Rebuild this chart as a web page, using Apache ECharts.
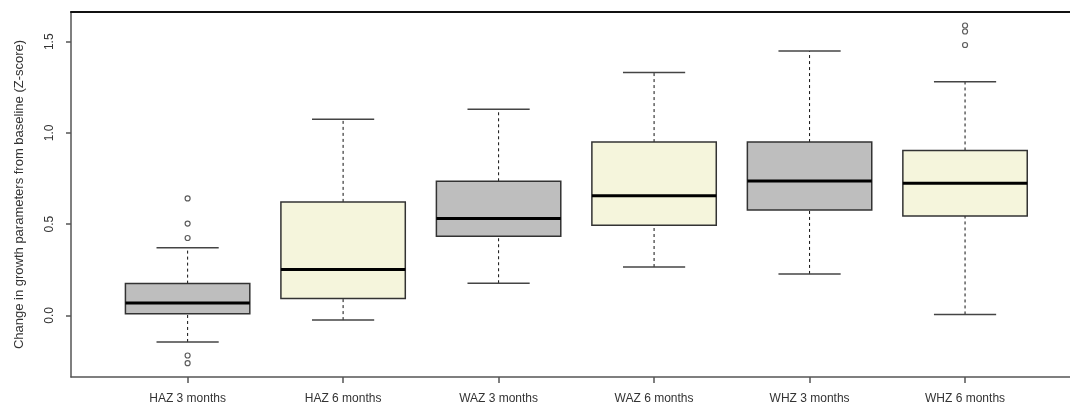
<!DOCTYPE html>
<html><head><meta charset="utf-8">
<script src="https://cdn.jsdelivr.net/npm/echarts@6/dist/echarts.min.js"></script>
<style>html,body{margin:0;padding:0;background:#fff}#c{width:1070px;height:410px}</style>
</head><body><div id="c"></div>
<script>
const categories = ['HAZ 3 months','HAZ 6 months','WAZ 3 months','WAZ 6 months','WHZ 3 months','WHZ 6 months'];
const lowerWhisker = [-0.146, -0.026, 0.176, 0.265, 0.227, 0.005];
const q1 = [0.009, 0.092, 0.434, 0.494, 0.578, 0.545];
const median = [0.068, 0.252, 0.531, 0.655, 0.737, 0.724];
const q3 = [0.174, 0.622, 0.735, 0.950, 0.950, 0.904];
const upperWhisker = [0.370, 1.075, 1.130, 1.332, 1.449, 1.280];
const outlierCat = [0, 0, 0, 0, 0, 5, 5, 5];
const outlierVal = [0.641, 0.503, 0.424, -0.220, -0.262, 1.589, 1.556, 1.482];
const yTicks = [0, 0.5, 1.0, 1.5];
const yTitle = 'Change in growth parameters from baseline (Z-score)';

const catPos = categories.map((c, i) => i + 1);
const boxData = categories.map((c, i) => [catPos[i], lowerWhisker[i], q1[i], median[i], q3[i], upperWhisker[i]]);
const outlierData = outlierCat.map((c, i) => [catPos[c], outlierVal[i]]);

const FONT = 'Liberation Sans';
const chart = echarts.init(document.getElementById('c'), null, {renderer: 'canvas'});

function renderBox(params, api) {
  const x = api.value(0);
  const lo = api.value(1), a = api.value(2), m = api.value(3), b = api.value(4), hi = api.value(5);
  const p = (xx, yy) => api.coord([xx, yy]);
  const fill = params.dataIndex % 2 === 0 ? '#bebebe' : '#f5f5dc';
  const tl = p(x - 0.4, b), br = p(x + 0.4, a);
  const line = (p1, p2, style) => ({type: 'line', shape: {x1: p1[0], y1: p1[1], x2: p2[0], y2: p2[1]}, style: style});
  const dash = {stroke: '#111', lineWidth: 1, lineDash: [3, 3]};
  const cap = {stroke: '#444', lineWidth: 1.5};
  return {
    type: 'group',
    children: [
      line(p(x, b), p(x, hi), dash),
      line(p(x, lo), p(x, a), dash),
      line(p(x - 0.2, hi), p(x + 0.2, hi), cap),
      line(p(x - 0.2, lo), p(x + 0.2, lo), cap),
      {type: 'rect', shape: {x: tl[0], y: tl[1], width: br[0] - tl[0], height: br[1] - tl[1]},
       style: {fill: fill, stroke: '#333', lineWidth: 1.5}},
      line(p(x - 0.4, m), p(x + 0.4, m), {stroke: '#000', lineWidth: 3})
    ]
  };
}

chart.setOption({
  animation: false,
  grid: {left: 71, right: 0, top: 12, bottom: 33},
  xAxis: [{
    type: 'value', min: 0.25, max: 6.675, position: 'bottom',
    splitLine: {show: false},
    axisLine: {show: true, onZero: false, lineStyle: {color: '#555', width: 1.5}},
    axisTick: {show: true, length: 6, customValues: catPos, lineStyle: {color: '#555', width: 1.5}},
    axisLabel: {customValues: catPos, formatter: v => categories[Math.round(v) - 1] || '',
      fontFamily: FONT, fontSize: 12, color: '#333', margin: 16}
  }, {
    type: 'value', min: 0.25, max: 6.675, position: 'top',
    splitLine: {show: false},
    axisLine: {show: true, onZero: false, lineStyle: {color: '#111', width: 2}},
    axisTick: {show: false}, axisLabel: {show: false}
  }],
  yAxis: {
    type: 'value', min: -0.338, max: 1.663,
    splitLine: {show: false},
    axisLine: {show: true, onZero: false, lineStyle: {color: '#555', width: 1.5}},
    axisTick: {show: true, length: 5, customValues: yTicks, lineStyle: {color: '#555', width: 1.5}},
    axisLabel: {customValues: yTicks, formatter: v => v.toFixed(1), rotate: 90,
      fontFamily: FONT, fontSize: 12, color: '#333', margin: 15},
    name: yTitle, nameLocation: 'middle', nameGap: 45,
    nameTextStyle: {fontFamily: FONT, fontSize: 13, color: '#333'}
  },
  series: [{
    type: 'custom', name: 'box', renderItem: renderBox,
    encode: {x: 0, y: [1, 2, 3, 4, 5]},
    data: boxData, z: 2
  }, {
    type: 'scatter', name: 'outliers', data: outlierData,
    symbol: 'circle', symbolSize: 5,
    itemStyle: {color: '#fff', borderColor: '#333', borderWidth: 1.2}, z: 3
  }]
});
</script>
</body></html>
